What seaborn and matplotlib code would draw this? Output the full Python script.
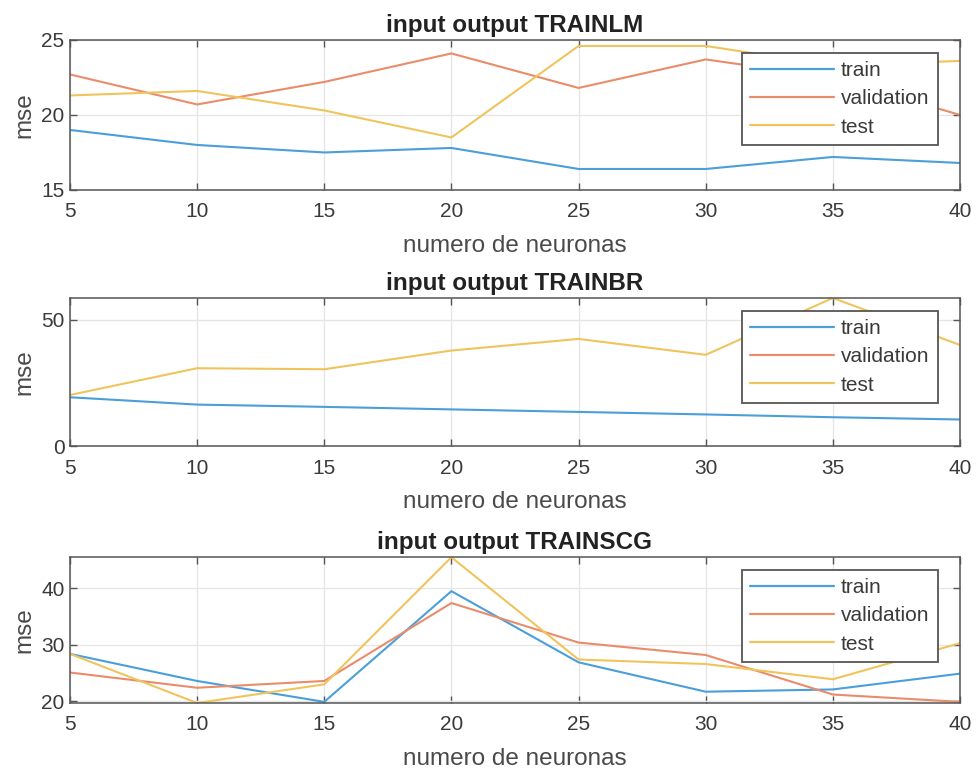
import matplotlib.pyplot as plt
import numpy as np
import seaborn as sns
from matplotlib.lines import Line2D

neurons = [5, 10, 15, 20, 25, 30, 35, 40]

# TRAINLM
lm_train = [19.0, 18.0, 17.5, 17.8, 16.4, 16.4, 17.2, 16.8]
lm_validation = [22.7, 20.7, 22.2, 24.1, 21.8, 23.7, 22.5, 20.0]
lm_test = [21.3, 21.6, 20.3, 18.5, 24.6, 24.6, 23.3, 23.6]

# TRAINBR (no validation set)
br_train = [19.3, 16.4, 15.5, 14.5, 13.5, 12.5, 11.4, 10.5]
br_validation = [np.nan] * 8
br_test = [20.2, 30.8, 30.4, 37.8, 42.4, 36.1, 58.6, 40.0]

# TRAINSCG
scg_train = [28.4, 23.6, 19.9, 39.5, 26.9, 21.7, 22.1, 24.9]
scg_validation = [25.1, 22.4, 23.6, 37.4, 30.4, 28.2, 21.2, 19.9]
scg_test = [28.4, 19.7, 23.0, 45.5, 27.4, 26.6, 23.9, 30.3]

series_names = ["train", "validation", "test"]
colors = ["#4a9fd9", "#e98c6c", "#f0c45c"]

titles = ["input output TRAINLM", "input output TRAINBR", "input output TRAINSCG"]
panel_data = [
    [lm_train, lm_validation, lm_test],
    [br_train, br_validation, br_test],
    [scg_train, scg_validation, scg_test],
]
ylims = [(15, 25), (0, 58.6), (19.7, 45.5)]
yticks = [[15, 20, 25], [0, 50], [20, 30, 40]]

sns.set_style("ticks")
plt.rcParams["font.family"] = ["Liberation Sans", "DejaVu Sans"]

fig = plt.figure(figsize=(9.77, 7.71), dpi=100)
positions = [
    [0.0716, 0.7536, 0.911, 0.1946],
    [0.0716, 0.4215, 0.911, 0.192],
    [0.0716, 0.0882, 0.911, 0.189],
]

for pos, title, data, ylim, yt in zip(positions, titles, panel_data, ylims, yticks):
    ax = fig.add_axes(pos)
    for name, values, c in zip(series_names, data, colors):
        if np.all(np.isnan(values)):
            continue
        sns.lineplot(x=neurons, y=values, ax=ax, color=c, linewidth=1.5)
    ax.set_xlim(5, 40)
    ax.set_ylim(*ylim)
    ax.set_xticks(neurons)
    ax.set_yticks(yt)
    ax.grid(True, color="#e6e6e6", linewidth=1)
    ax.set_axisbelow(True)
    for sp in ax.spines.values():
        sp.set_visible(True)
        sp.set_color("#555555")
        sp.set_linewidth(1.1)
    ax.tick_params(direction="in", top=True, right=True, length=5, width=1,
                   color="#555555", labelsize=15, labelcolor="#3a3a3a")
    ax.tick_params(axis="x", pad=9)
    ax.tick_params(axis="y", pad=4)
    ax.set_xlabel("numero de neuronas", fontsize=17.5, color="#4a4a4a", labelpad=10)
    ax.set_ylabel("mse", fontsize=17.5, color="#4a4a4a", labelpad=4)
    ax.set_title(title, fontsize=17.5, fontweight="bold", color="#222222", pad=6)
    handles = [Line2D([0], [0], color=c, linewidth=1.6) for c in colors]
    leg = ax.legend(handles, series_names, loc="upper right",
                    bbox_to_anchor=(0.975, 0.915), borderaxespad=0,
                    fontsize=15, handlelength=4.0, handletextpad=0.35,
                    labelspacing=0.45, borderpad=0.4, fancybox=False,
                    framealpha=1, edgecolor="#555555")
    leg.get_frame().set_linewidth(1.3)
    for t in leg.get_texts():
        t.set_color("#3a3a3a")

fig.savefig("out.png", dpi=100)
